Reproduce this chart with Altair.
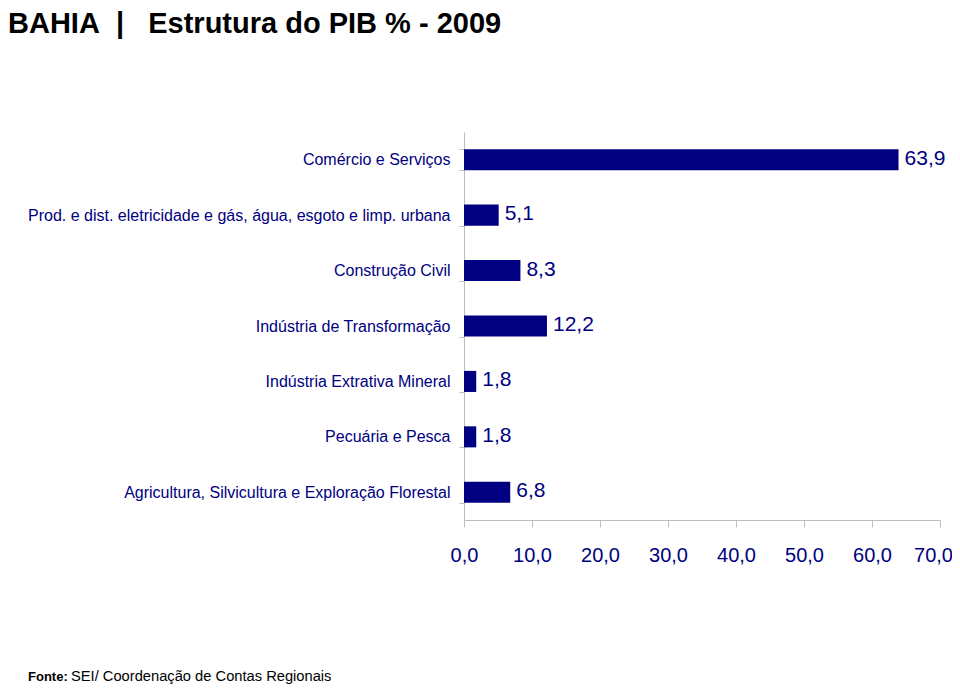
import altair as alt
import pandas as pd

categories = [
    "Comércio e Serviços",
    "Prod. e dist. eletricidade e gás, água, esgoto e limp. urbana",
    "Construção Civil",
    "Indústria de Transformação",
    "Indústria Extrativa Mineral",
    "Pecuária e Pesca",
    "Agricultura, Silvicultura e Exploração Florestal",
]
values = [63.9, 5.1, 8.3, 12.2, 1.8, 1.8, 6.8]
x_ticks = [0, 10, 20, 30, 40, 50, 60, 70]

title_text = "BAHIA\u00a0\u00a0|\u00a0\u00a0\u00a0Estrutura do PIB % - 2009"
source_bold = "Fonte:"
source_rest = "SEI/ Coordenação de Contas Regionais"

NAVY = "#000080"
GREY = "#bdbdbd"
FONT = "Liberation Sans, Arial, sans-serif"

df = pd.DataFrame({"cat": categories, "val": values})
df["lbl"] = [f"{v:.1f}".replace(".", ",") for v in values]

x_enc = alt.X(
    "val:Q",
    scale=alt.Scale(domain=[0, 70], nice=False, zero=True),
    axis=alt.Axis(
        values=x_ticks,
        title=None,
        grid=False,
        domainColor=GREY,
        tickColor=GREY,
        tickSize=7,
        labelColor=NAVY,
        labelFont=FONT,
        labelFontSize=20,
        labelPadding=18,
        labelOverlap=False,
        labelFlush=False,
        labelOffset=alt.expr("datum.value == 70 ? -7 : 0"),
        labelExpr="replace(format(datum.value, '.1f'), '.', ',')",
    ),
)
y_enc = alt.Y(
    "cat:N",
    sort=categories,
    scale=alt.Scale(paddingInner=0.62, paddingOuter=0.31),
    axis=alt.Axis(
        title=None,
        domainColor=GREY,
        tickColor=GREY,
        tickSize=5,
        tickBand="extent",
        labelColor=NAVY,
        labelFont=FONT,
        labelFontSize=16,
        labelPadding=9,
        labelLimit=0,
    ),
)

bars = alt.Chart(df).mark_bar(color=NAVY).encode(x=x_enc, y=y_enc)
labels = alt.Chart(df).mark_text(
    align="left", baseline="middle", dx=6, dy=-1, color=NAVY, font=FONT, fontSize=21
).encode(x="val:Q", y=alt.Y("cat:N", sort=categories), text="lbl:N")

one = pd.DataFrame({"t": [title_text]})
title = alt.Chart(one).mark_text(
    align="left", baseline="top", font="Liberation Sans", fontWeight="bold",
    fontSize=29, color="#000000"
).encode(x=alt.value(-456), y=alt.value(-122), text="t:N")

src1 = alt.Chart(pd.DataFrame({"t": [source_bold]})).mark_text(
    align="left", baseline="middle", font="Liberation Sans", fontWeight="bold",
    fontSize=13, color="#000000"
).encode(x=alt.value(-436), y=alt.value(545), text="t:N")
src2 = alt.Chart(pd.DataFrame({"t": [source_rest]})).mark_text(
    align="left", baseline="middle", font="Liberation Sans",
    fontSize=14.7, color="#000000"
).encode(x=alt.value(-393), y=alt.value(545), text="t:N")

chart = alt.layer(bars, labels, title, src1, src2).properties(
    width=476,
    height=388,
    autosize=alt.AutoSizeParams(type="none"),
    padding={"left": 456, "top": 124, "right": 12, "bottom": 167},
    background="#ffffff",
).configure_view(stroke=None)

chart.save("out.html", embed_options={"renderer": "svg", "actions": False})
